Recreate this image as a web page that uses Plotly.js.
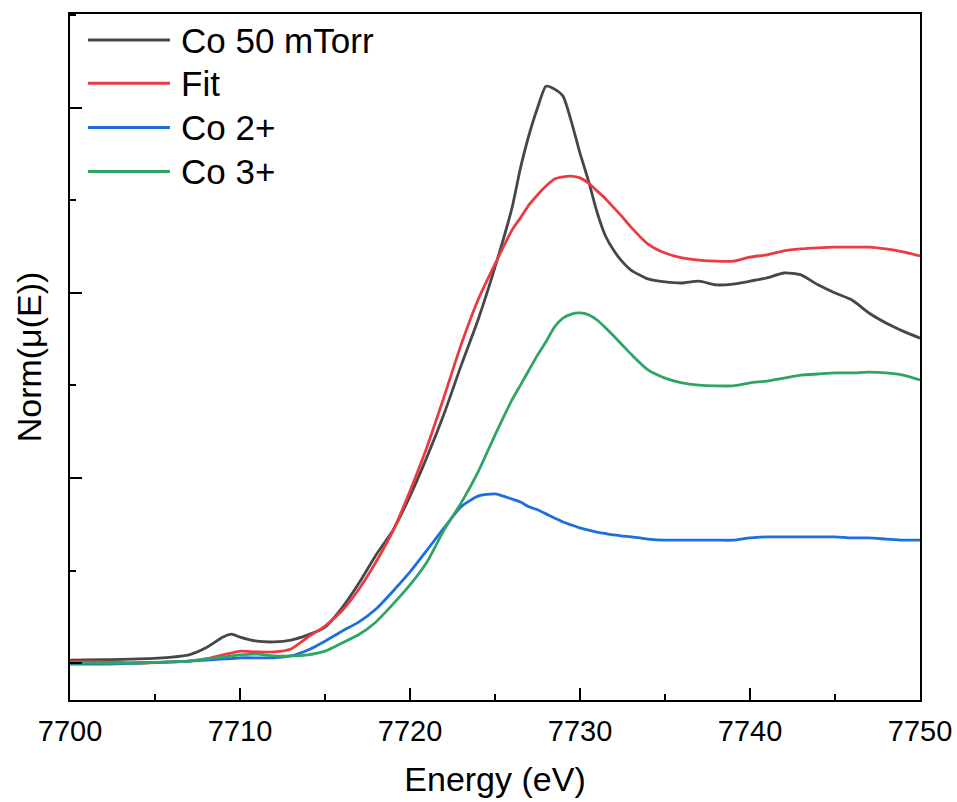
<!DOCTYPE html>
<html>
<head>
<meta charset="utf-8">
<script src="https://cdn.plot.ly/plotly-3.0.1.min.js"></script>
<style>
  html, body { margin: 0; padding: 0; background: #ffffff; }
  #chart { width: 957px; height: 802px; }
</style>
</head>
<body>
<div id="chart"></div>
<script>
// Co K-edge XANES: measured spectrum, linear-combination fit and reference components
const energy = [
  7700, 7702, 7704, 7706, 7707, 7708, 7709, 7709.5, 7710,
  7711, 7712, 7713, 7714, 7715, 7716, 7717, 7718, 7719, 7720,
  7721, 7722, 7723, 7724, 7725, 7726,
  7726.5, 7727, 7727.5, 7728, 7728.5, 7729, 7729.5, 7730, 7730.5, 7731,
  7731.5, 7732, 7732.5, 7733, 7734, 7735, 7736, 7737, 7738, 7739, 7740, 7741,
  7742, 7743, 7744, 7745, 7746, 7747, 7748, 7749, 7750
];

const co50mTorr = [
  0.008, 0.009, 0.011, 0.016, 0.022, 0.041, 0.070, 0.078, 0.070,
  0.059, 0.057, 0.062, 0.076, 0.097, 0.149, 0.216, 0.292, 0.359, 0.451,
  0.557, 0.673, 0.803, 0.927, 1.070, 1.230,
  1.338, 1.427, 1.500, 1.559, 1.551, 1.532, 1.462, 1.378, 1.303, 1.219,
  1.154, 1.114, 1.084, 1.062, 1.038, 1.030, 1.027, 1.032, 1.022, 1.024, 1.032, 1.041,
  1.054, 1.049, 1.022, 1.000, 0.981, 0.946, 0.919, 0.897, 0.878
];

const fit = [
  0.003, 0.003, 0.000, 0.003, 0.005, 0.011, 0.022, 0.027, 0.032,
  0.030, 0.030, 0.038, 0.070, 0.100, 0.141, 0.200, 0.273, 0.357, 0.465,
  0.584, 0.719, 0.859, 0.981, 1.078, 1.170,
  1.203, 1.238, 1.265, 1.289, 1.308, 1.314, 1.316, 1.311, 1.297, 1.276,
  1.255, 1.230, 1.205, 1.178, 1.132, 1.108, 1.095, 1.089, 1.086, 1.086, 1.097, 1.103,
  1.114, 1.119, 1.122, 1.124, 1.124, 1.124, 1.119, 1.111, 1.100
];

const co2plus = [
  -0.003, -0.003, 0.000, 0.003, 0.005, 0.008, 0.011, 0.012, 0.014,
  0.014, 0.014, 0.019, 0.035, 0.059, 0.086, 0.111, 0.146, 0.194, 0.246,
  0.305, 0.365, 0.422, 0.451, 0.457, 0.443,
  0.435, 0.422, 0.414, 0.403, 0.392, 0.381, 0.373, 0.365, 0.359, 0.354,
  0.350, 0.346, 0.343, 0.341, 0.335, 0.332, 0.332, 0.332, 0.332, 0.332, 0.338, 0.341,
  0.341, 0.341, 0.341, 0.341, 0.338, 0.338, 0.335, 0.332, 0.332
];

const co3plus = [
  0.000, 0.000, 0.000, 0.003, 0.005, 0.011, 0.016, 0.019, 0.022,
  0.024, 0.019, 0.019, 0.022, 0.032, 0.054, 0.077, 0.111, 0.159, 0.211,
  0.273, 0.359, 0.432, 0.516, 0.616, 0.711,
  0.751, 0.792, 0.832, 0.868, 0.908, 0.932, 0.943, 0.946, 0.941, 0.927,
  0.906, 0.883, 0.859, 0.835, 0.792, 0.770, 0.757, 0.751, 0.749, 0.749, 0.757, 0.762,
  0.770, 0.778, 0.781, 0.784, 0.784, 0.786, 0.784, 0.778, 0.765
];

const seriesNames = ['Co 50 mTorr', 'Fit', 'Co 2+', 'Co 3+'];
const seriesColors = ['#474747', '#ec3b40', '#1d6fdf', '#2fa463'];
const seriesValues = [co50mTorr, fit, co2plus, co3plus];

const xTicks = [7700, 7710, 7720, 7730, 7740, 7750];

const FONT = 'Arial, "Liberation Sans", Helvetica, sans-serif';

const traces = seriesValues.map((vals, i) => ({
  type: 'scatter',
  mode: 'lines',
  x: energy,
  y: vals,
  name: seriesNames[i],
  line: { color: seriesColors[i], width: 2.8, shape: 'spline', smoothing: 0.6 },
  showlegend: false,
  hoverinfo: 'skip'
}));

// hand-placed legend block in the upper-left corner of the plot area
const legendRows = [0.962, 0.899, 0.8345, 0.7705];
const shapes = seriesNames.map((n, i) => ({
  type: 'line', xref: 'paper', yref: 'paper',
  x0: 0.0212, x1: 0.1176, y0: legendRows[i], y1: legendRows[i],
  line: { color: seriesColors[i], width: 3 }
}));
const annotations = seriesNames.map((n, i) => ({
  xref: 'paper', yref: 'paper',
  x: 0.1282, y: legendRows[i],
  xanchor: 'left', yanchor: 'middle',
  text: n, showarrow: false,
  font: { family: FONT, size: 35, color: '#000000' }
}));

const layout = {
  width: 957,
  height: 802,
  margin: { l: 70, r: 37, t: 14, b: 102 },
  paper_bgcolor: '#ffffff',
  plot_bgcolor: '#ffffff',
  showlegend: false,
  font: { family: FONT, color: '#000000' },
  xaxis: {
    range: [7700, 7750],
    tickmode: 'array',
    tickvals: xTicks,
    ticktext: xTicks.map(String),
    ticks: 'inside',
    ticklen: 12,
    tickwidth: 2,
    tickcolor: '#000000',
    minor: { dtick: 5, tick0: 7700, ticks: 'inside', ticklen: 6, tickwidth: 2, tickcolor: '#000000' },
    showline: true,
    linewidth: 2,
    linecolor: '#000000',
    mirror: true,
    showgrid: false,
    zeroline: false,
    ticklabelstandoff: 4,
    tickfont: { family: FONT, size: 29, color: '#000000' },
    title: { text: 'Energy (eV)', font: { family: FONT, size: 34, color: '#000000' }, standoff: 21 }
  },
  yaxis: {
    range: [-0.1, 1.754],
    tick0: 0,
    dtick: 0.5,
    ticks: 'inside',
    ticklen: 12,
    tickwidth: 2,
    tickcolor: '#000000',
    minor: { dtick: 0.25, tick0: 0, ticks: 'inside', ticklen: 6, tickwidth: 2, tickcolor: '#000000' },
    showticklabels: false,
    showline: true,
    linewidth: 2,
    linecolor: '#000000',
    mirror: true,
    showgrid: false,
    zeroline: false,
    title: { text: 'Norm(μ(E))', font: { family: FONT, size: 34, color: '#000000' }, standoff: 16 }
  },
  shapes: shapes,
  annotations: annotations
};

Plotly.newPlot('chart', traces, layout, { displayModeBar: false, staticPlot: true });
</script>
</body>
</html>
